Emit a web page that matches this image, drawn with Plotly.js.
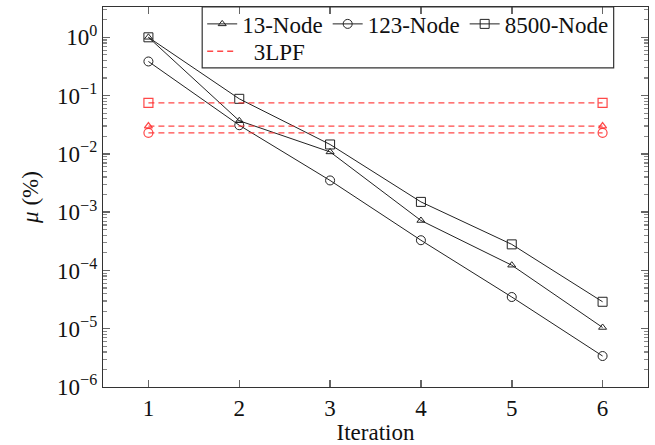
<!DOCTYPE html>
<html>
<head>
<meta charset="utf-8">
<script src="https://cdn.plot.ly/plotly-3.0.1.min.js"></script>
<style>html,body{margin:0;padding:0;background:#fff;}#chart{width:655px;height:445px;}</style>
</head>
<body>
<div id="chart"></div>
<script>
const iterations = [1, 2, 3, 4, 5, 6];
const node13 = [1.0, 0.037, 0.0108, 0.00072, 0.000123, 0.0000105];
const node123 = [0.385, 0.031, 0.0035, 0.00033, 0.000035, 0.0000034];
const node8500 = [1.0, 0.088, 0.0145, 0.0015, 0.00028, 0.000029];
const lpfX = [1, 6];
const lpf13 = 0.030;
const lpf123 = 0.023;
const lpf8500 = 0.075;
const yTickVals = [1, 0.1, 0.01, 0.001, 0.0001, 0.00001, 0.000001];
const yTickText = ['10<sup>0</sup>', '10<sup>\u22121</sup>', '10<sup>\u22122</sup>', '10<sup>\u22123</sup>', '10<sup>\u22124</sup>', '10<sup>\u22125</sup>', '10<sup>\u22126</sup>'];

// minor tick positions (2..9 within each decade)
const yMinorVals = [];
for (let e = -6; e <= 0; e++) {
  for (let m = 2; m <= 9; m++) yMinorVals.push(m * Math.pow(10, e));
}

const FONT = "'Liberation Serif', 'Times New Roman', serif";
const black = '#222';
const red = 'rgba(255,40,40,0.85)';

const traces = [
  {x: iterations, y: node13, name: '13-Node', mode: 'lines+markers', legend: 'legend',
   line: {color: black, width: 1}, marker: {symbol: 'triangle-up-open', size: 7, color: black, line: {width: 1}}},
  {x: iterations, y: node123, name: '123-Node', mode: 'lines+markers', legend: 'legend',
   line: {color: black, width: 1}, marker: {symbol: 'circle-open', size: 9, color: black, line: {width: 1}}},
  {x: iterations, y: node8500, name: '8500-Node', mode: 'lines+markers', legend: 'legend',
   line: {color: black, width: 1}, marker: {symbol: 'square-open', size: 9, color: black, line: {width: 1}}},
  {x: lpfX, y: [lpf8500, lpf8500], mode: 'lines+markers', showlegend: false,
   line: {color: red, width: 1.3, dash: '6px,4px'}, marker: {symbol: 'square-open', size: 9, color: red, line: {width: 1.2}}},
  {x: lpfX, y: [lpf13, lpf13], mode: 'lines+markers', showlegend: false,
   line: {color: red, width: 1.3, dash: '6px,4px'}, marker: {symbol: 'triangle-up-open', size: 7, color: red, line: {width: 1.2}}},
  {x: lpfX, y: [lpf123, lpf123], mode: 'lines+markers', showlegend: false,
   line: {color: red, width: 1.3, dash: '6px,4px'}, marker: {symbol: 'circle-open', size: 9, color: red, line: {width: 1.2}}},
  {x: [null], y: [null], name: '\u00a0\u00a03LPF', mode: 'lines', legend: 'legend2',
   line: {color: red, width: 1.3, dash: '6px,4px'}},
  // carrier for the minor-tick overlay axis
  {x: [1], y: [1], yaxis: 'y2', mode: 'markers', marker: {opacity: 0}, showlegend: false, hoverinfo: 'skip'}
];

const layout = {
  width: 655, height: 445,
  margin: {l: 103, r: 7, t: 7, b: 58, autoexpand: false},
  paper_bgcolor: '#fff', plot_bgcolor: '#fff',
  font: {family: FONT, size: 23, color: '#111'},
  showlegend: true,
  xaxis: {
    range: [0.5, 6.5], tickmode: 'array', tickvals: iterations,
    ticks: 'inside', ticklen: 7, tickcolor: '#666', tickwidth: 1.5,
    showline: true, linecolor: '#333', linewidth: 1.2, mirror: 'ticks',
    showgrid: false, zeroline: false,
    tickfont: {family: FONT, size: 23},
    title: {text: 'Iteration', font: {family: FONT, size: 23}, standoff: 4}
  },
  yaxis: {
    type: 'log', range: [-6, 0.52],
    tickmode: 'array', tickvals: yTickVals, ticktext: yTickText,
    ticks: 'inside', ticklen: 7, tickcolor: '#666', tickwidth: 1.5,
    showline: true, linecolor: '#333', linewidth: 1.2, mirror: 'ticks',
    showgrid: false, zeroline: false,
    tickfont: {family: FONT, size: 23},
    title: {text: '<i>μ</i> (%)', font: {family: FONT, size: 23}, standoff: 12}
  },
  yaxis2: {
    type: 'log', range: [-6, 0.52], overlaying: 'y', side: 'left',
    tickmode: 'array', tickvals: yMinorVals, showticklabels: false,
    ticks: 'inside', ticklen: 4, tickcolor: '#888', tickwidth: 1.2,
    showline: false, mirror: 'allticks', showgrid: false, zeroline: false
  },
  legend: {
    orientation: 'h', x: 0.182, xanchor: 'left', y: 1.012, yanchor: 'top',
    bgcolor: 'rgba(0,0,0,0)', borderwidth: 0, itemwidth: 30,
    font: {family: FONT, size: 23, color: '#111'}, tracegroupgap: 0
  },
  legend2: {
    orientation: 'h', x: 0.182, xanchor: 'left', y: 0.94, yanchor: 'top',
    bgcolor: 'rgba(0,0,0,0)', borderwidth: 0, itemwidth: 30,
    font: {family: FONT, size: 23, color: '#111'}
  },
  shapes: [
    {type: 'rect', xref: 'paper', yref: 'paper', x0: 0.182, x1: 0.937, y0: 0.84, y1: 1.0,
     line: {color: '#333', width: 1.2}, fillcolor: 'rgba(0,0,0,0)', layer: 'above'}
  ]
};

Plotly.newPlot('chart', traces, layout, {displayModeBar: false, staticPlot: true});
</script>
</body>
</html>
